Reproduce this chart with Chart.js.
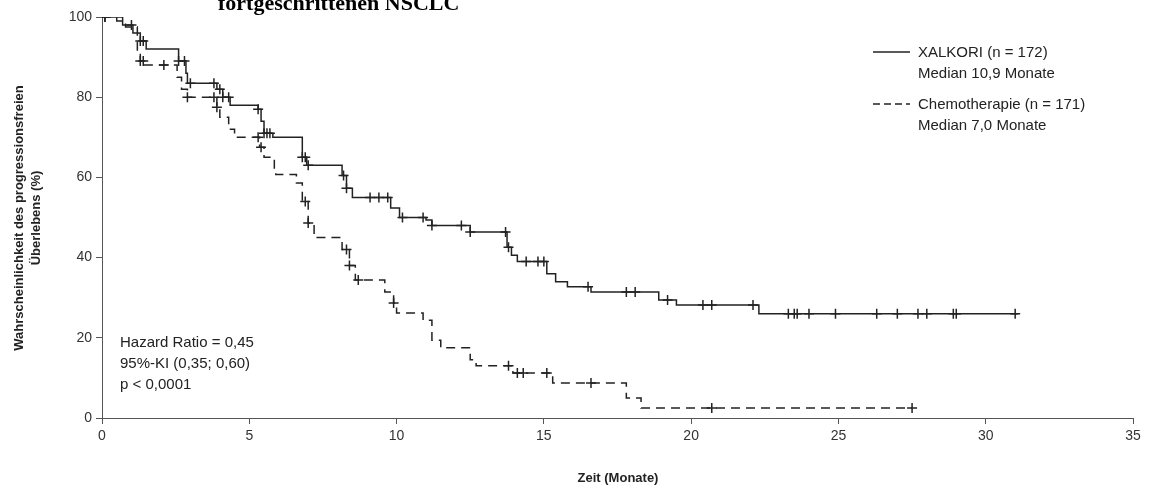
<!DOCTYPE html>
<html><head><meta charset="utf-8">
<script src="https://cdn.jsdelivr.net/npm/chart.js@4"></script>
<style>body{margin:0;background:#fff}#wrap{width:1159px;height:488px}</style>
</head><body><div id="wrap"><canvas id="c"></canvas></div>
<script>
// Kaplan-Meier Stufen: [Monat, Wahrscheinlichkeit %]
const xalkoriZeit = [0, 0.7, 1.05, 1.3, 1.5, 2.6, 2.85, 2.9, 3.9, 4.1, 4.35, 5.3, 5.4, 5.5, 5.8, 6.8, 6.95, 8.15, 8.3, 8.5, 9.8, 10.1, 11.0, 11.2, 12.5, 13.75, 13.9, 14.1, 15.1, 15.4, 15.8, 16.6, 18.9, 19.5, 22.3, 31.1];
const xalkoriWert = [100, 98, 96, 94, 92, 89, 86, 83.5, 82, 80, 78, 77, 74, 71, 70, 65, 63, 60.5, 57.3, 55, 52.4, 50, 49.4, 48, 46.4, 42.6, 40.6, 39, 36, 34, 32.7, 31.4, 29.4, 28.2, 26, 26];
const chemoZeit = [0, 0.5, 0.8, 1.2, 1.3, 1.45, 2.55, 2.7, 2.9, 3.9, 4.0, 4.3, 4.5, 5.35, 5.5, 5.85, 5.9, 6.6, 6.8, 7.0, 7.2, 8.15, 8.4, 8.6, 9.6, 9.9, 10.0, 10.9, 11.2, 11.5, 12.5, 12.7, 13.95, 15.3, 17.8, 18.3, 27.5];
const chemoWert = [100, 99, 97.5, 91, 89, 88, 85, 82, 80, 77.5, 75, 72, 70, 67.5, 65, 62, 60.7, 58.6, 54, 48.6, 45, 42, 38, 34.4, 31.4, 28.7, 26.2, 24.4, 19.4, 17.5, 14.5, 13, 11.2, 8.7, 5, 2.5, 2.5];
const xalkoriZensiert = [0.1, 1.0, 1.3, 1.4, 2.6, 2.8, 3.0, 3.8, 4.0, 4.1, 4.3, 5.3, 5.5, 5.6, 5.7, 6.8, 6.9, 7.0, 8.2, 8.3, 9.1, 9.4, 9.7, 10.2, 10.9, 11.2, 12.2, 12.5, 13.7, 13.8, 14.4, 14.8, 15.0, 16.5, 17.8, 18.1, 19.2, 20.4, 20.7, 22.1, 23.3, 23.5, 23.6, 24.0, 24.9, 26.3, 27.0, 27.7, 28.0, 28.9, 29.0, 31.0];
const chemoZensiert = [0.1, 1.3, 1.4, 2.1, 2.9, 3.8, 3.9, 5.3, 5.4, 6.9, 7.0, 8.3, 8.4, 8.7, 9.9, 13.8, 14.1, 14.3, 15.1, 16.6, 20.7, 27.5];
const xTicks = [0, 5, 10, 15, 20, 25, 30, 35];
const yTicks = [0, 20, 40, 60, 80, 100];

function stufe(zeit, wert, t) {
  let v = wert[0];
  for (let i = 0; i < zeit.length; i++) { if (zeit[i] <= t) v = wert[i]; }
  return v;
}
const punkte = (z, w) => z.map((t, i) => ({x: t, y: w[i]}));
const kreuze = (c, z, w) => c.map(t => ({x: t, y: stufe(z, w, t)}));

const schrift = "'Liberation Sans', Arial, sans-serif";
const beschriftung = {
  id: "beschriftung",
  afterDraw(chart) {
    const g = chart.ctx;
    g.save();
    g.fillStyle = "#000";
    g.font = "bold 22px 'Liberation Serif', serif";
    g.fillText("fortgeschrittenen NSCLC", 218, 10);
    g.fillStyle = "#222";
    g.font = "15px " + schrift;
    g.fillText("Hazard Ratio = 0,45", 120, 347);
    g.fillText("95%-KI (0,35; 0,60)", 120, 368);
    g.fillText("p < 0,0001", 120, 389);
    // Legende
    g.strokeStyle = "#222"; g.lineWidth = 1.5;
    g.beginPath(); g.moveTo(873, 52); g.lineTo(910, 52); g.stroke();
    g.setLineDash([7, 4]);
    g.beginPath(); g.moveTo(873, 104); g.lineTo(910, 104); g.stroke();
    g.setLineDash([]);
    g.fillText("XALKORI (n = 172)", 918, 57);
    g.fillText("Median 10,9 Monate", 918, 78);
    g.fillText("Chemotherapie (n = 171)", 918, 109);
    g.fillText("Median 7,0 Monate", 918, 130);
    // Achsentitel
    g.font = "bold 13px " + schrift;
    g.textAlign = "center";
    g.fillText("Zeit (Monate)", 618, 482);
    g.translate(28, 218);
    g.rotate(-Math.PI / 2);
    g.fillText("Wahrscheinlichkeit des progressionsfreien", 0, -5);
    g.fillText("Überlebens (%)", 0, 12);
    g.restore();
  }
};

new Chart(document.getElementById("c"), {
  data: {
    datasets: [
      {type: "line", data: punkte(xalkoriZeit, xalkoriWert), stepped: true, borderColor: "#222", borderWidth: 1.5, pointRadius: 0},
      {type: "line", data: punkte(chemoZeit, chemoWert), stepped: true, borderColor: "#222", borderWidth: 1.5, borderDash: [9, 6], pointRadius: 0},
      {type: "scatter", data: kreuze(xalkoriZensiert, xalkoriZeit, xalkoriWert), pointStyle: "cross", pointRadius: 5, borderColor: "#222", borderWidth: 1.5},
      {type: "scatter", data: kreuze(chemoZensiert, chemoZeit, chemoWert), pointStyle: "cross", pointRadius: 5, borderColor: "#222", borderWidth: 1.5}
    ]
  },
  options: {
    responsive: true, maintainAspectRatio: false, animation: false,
    layout: {padding: {top: 17, right: 26, left: 0, bottom: 0}},
    plugins: {legend: {display: false}, tooltip: {enabled: false}},
    scales: {
      x: {type: "linear", min: 0, max: 35,
        afterFit: s => { s.height = 70; },
        afterBuildTicks: s => { s.ticks = xTicks.map(v => ({value: v})); },
        border: {color: "#555", width: 1},
        grid: {drawOnChartArea: false, tickLength: 6, color: "#555"},
        ticks: {color: "#333", font: {size: 14, family: schrift}, padding: 4}},
      y: {min: 0, max: 100,
        afterFit: s => { s.width = 102; },
        afterBuildTicks: s => { s.ticks = yTicks.map(v => ({value: v})); },
        border: {color: "#555", width: 1},
        grid: {drawOnChartArea: false, tickLength: 6, color: "#555"},
        ticks: {color: "#333", font: {size: 14, family: schrift}, padding: 4}}
    }
  },
  plugins: [beschriftung]
});
</script></body></html>
